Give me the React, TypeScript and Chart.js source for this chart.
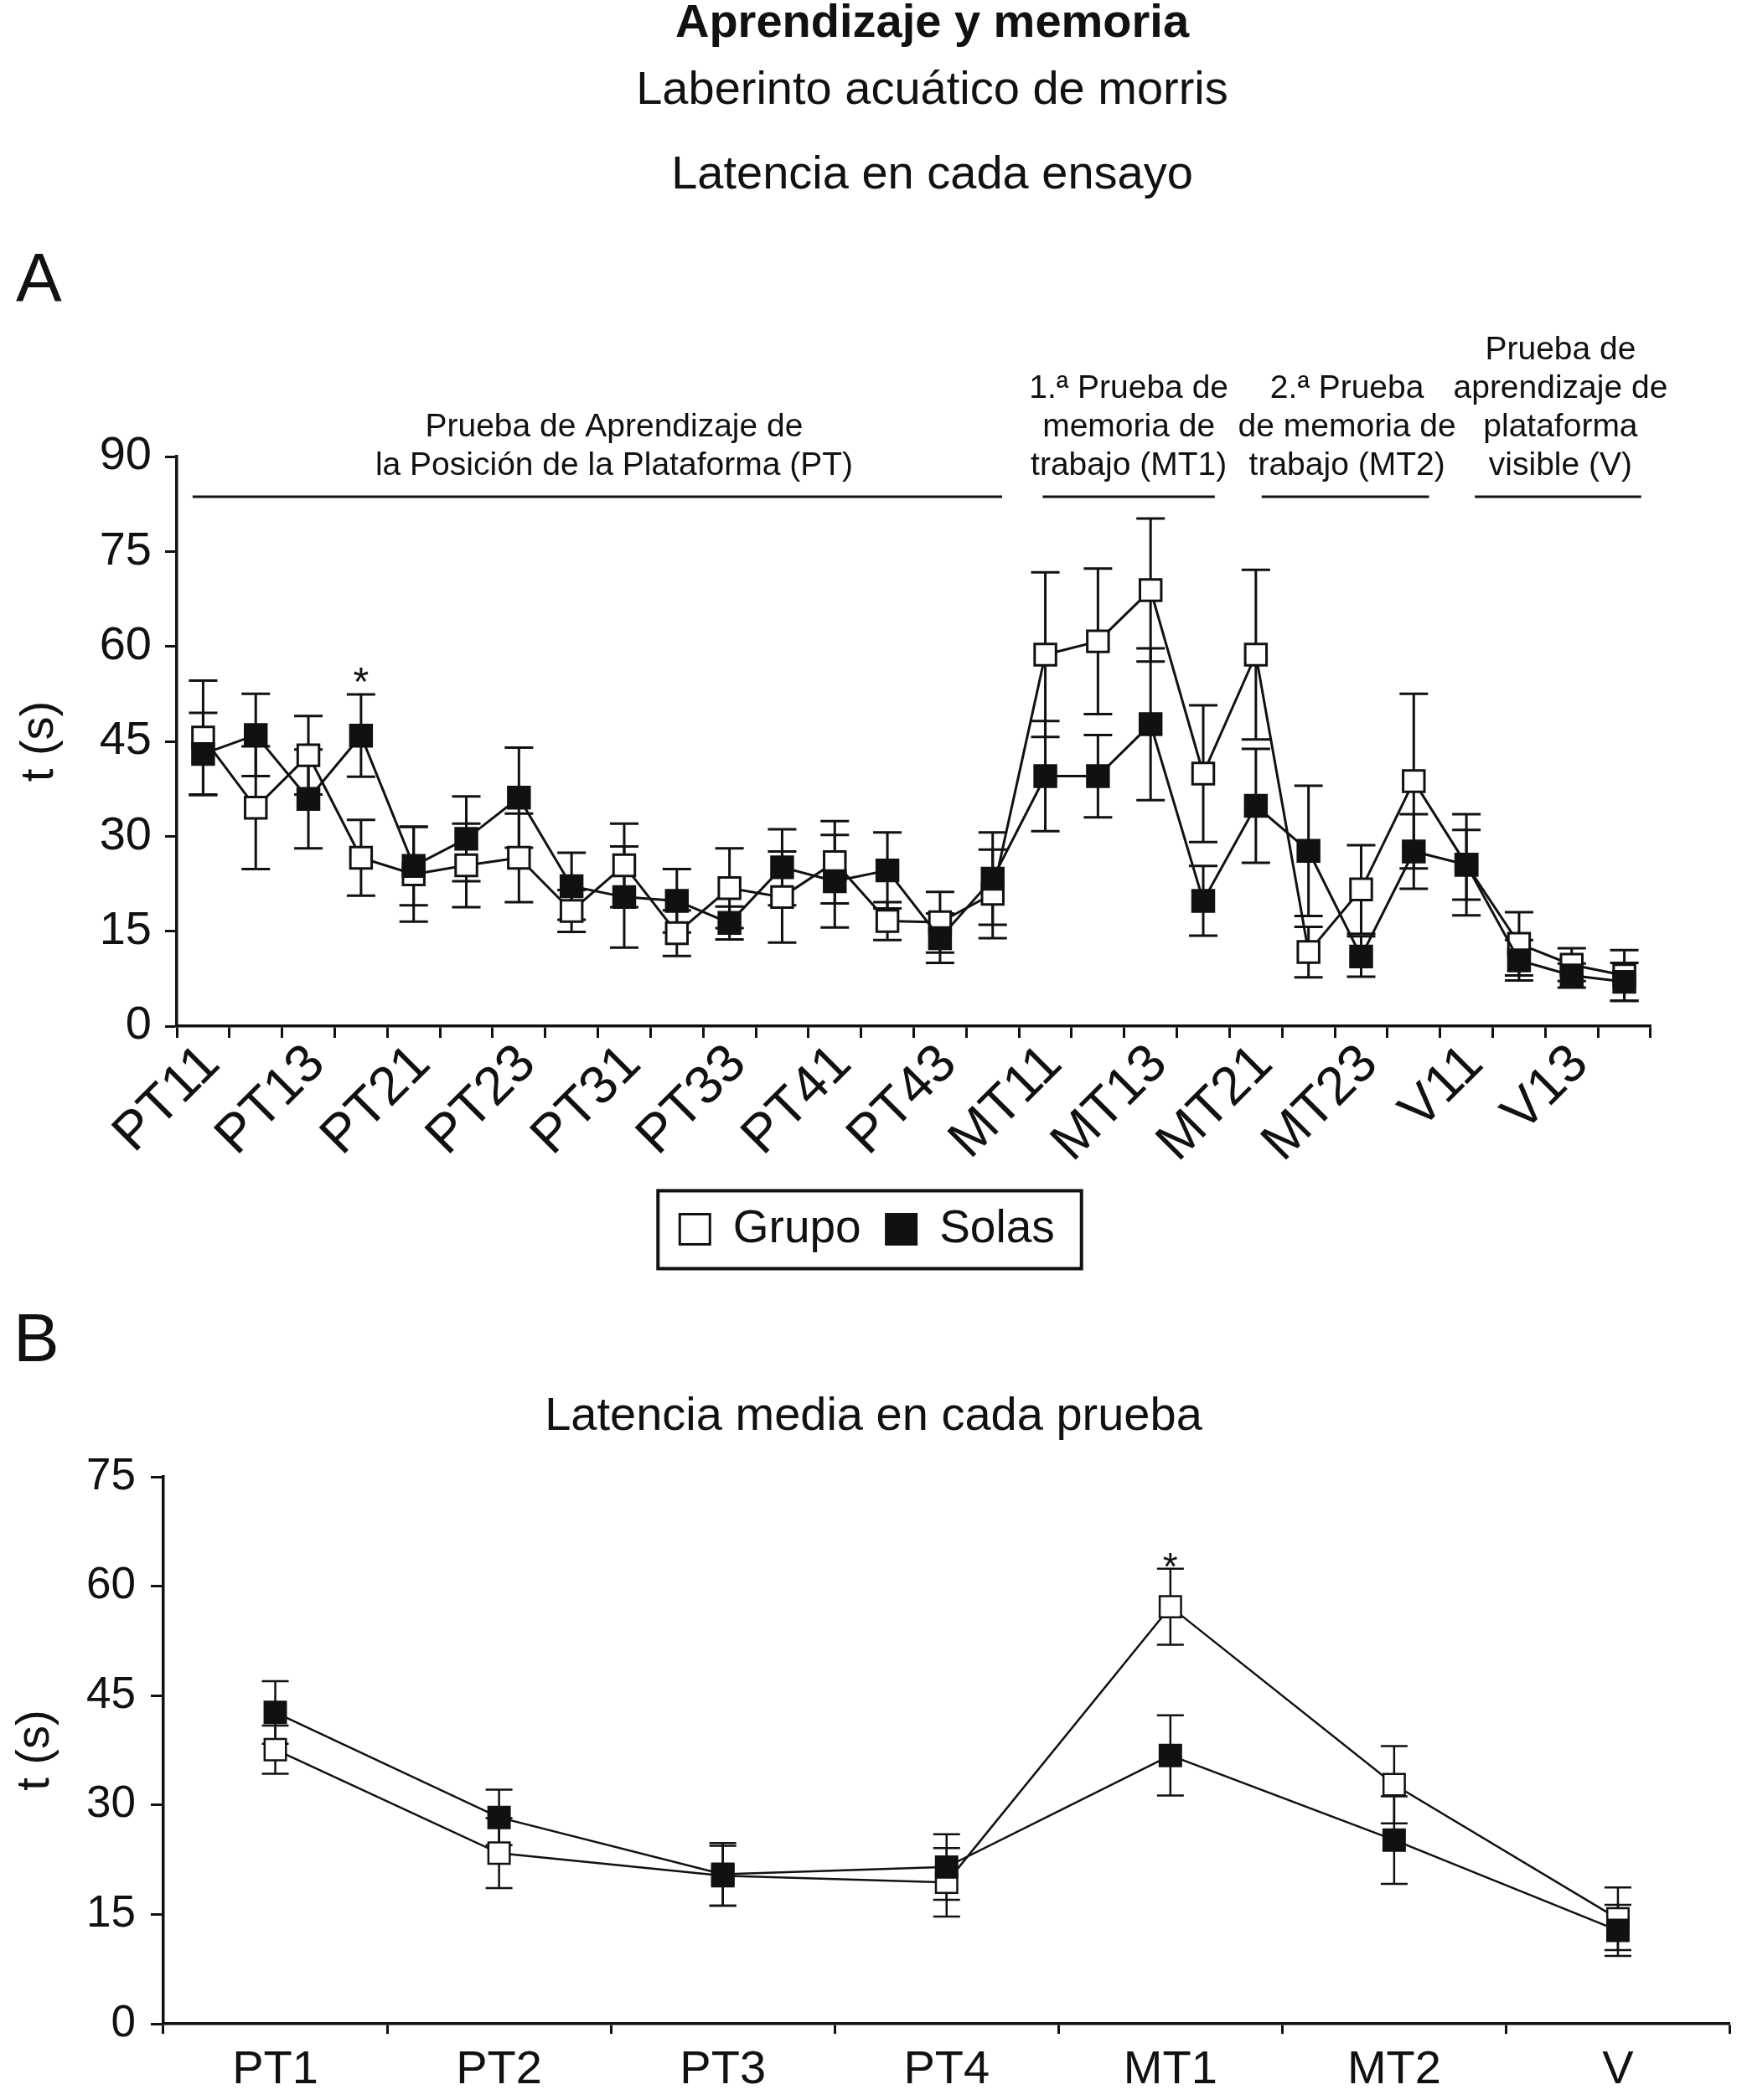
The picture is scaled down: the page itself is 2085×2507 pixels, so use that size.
import React, { useEffect, useRef } from 'react';
import { Chart, registerables } from 'chart.js';

Chart.register(...registerables);

const FONT_FAMILY = "'Liberation Sans', Arial, Helvetica, sans-serif";
const INK = '#111111';

// ---------- texts ----------
const headerTitle = 'Aprendizaje y memoria';
const headerSubtitle = ['Laberinto acuático de morris', 'Latencia en cada ensayo'];
const seriesNames = ['Grupo', 'Solas'];
const yAxisTitle = 't (s)';
const testTitle = 'Latencia media en cada prueba';

// ---------- panel A: latency per trial ----------
const trialLabels = [
  'PT11', 'PT12', 'PT13', 'PT14', 'PT21', 'PT22', 'PT23', 'PT24',
  'PT31', 'PT32', 'PT33', 'PT34', 'PT41', 'PT42', 'PT43', 'PT44',
  'MT11', 'MT12', 'MT13', 'MT14', 'MT21', 'MT22', 'MT23', 'MT24',
  'V11', 'V12', 'V13', 'V14',
];
const grupoTrial = [
  45.6, 34.5, 42.8, 26.6, 24.0, 25.4, 26.6, 18.2,
  25.4, 14.7, 21.8, 20.4, 25.9, 16.6, 16.4, 20.9,
  58.7, 60.8, 68.9, 39.9, 58.7, 11.7, 21.6, 38.7,
  25.5, 13.0, 9.7, 8.0,
];
const grupoTrialErr = [
  9.0, 9.7, 6.2, 6.0, 7.5, 6.6, 7.0, 3.3,
  6.6, 3.6, 6.3, 7.2, 6.5, 3.0, 4.8, 7.0,
  13.0, 11.5, 11.3, 10.8, 13.4, 4.0, 7.0, 13.8,
  8.0, 5.0, 2.6, 4.0,
];
const solasTrial = [
  43.0, 46.0, 35.9, 45.9, 25.3, 29.6, 36.1, 22.1,
  20.4, 19.8, 16.3, 25.1, 22.9, 24.6, 13.9, 23.3,
  39.5, 39.5, 47.7, 19.8, 34.8, 27.7, 11.0, 27.6,
  25.5, 10.4, 8.0, 7.0,
];
const solasTrialErr = [
  6.5, 6.5, 7.8, 6.5, 6.2, 6.7, 7.9, 5.3,
  8.0, 5.0, 2.6, 6.0, 7.3, 6.0, 3.9, 7.3,
  8.7, 6.5, 12.0, 5.5, 9.0, 10.3, 3.2, 5.9,
  5.5, 3.2, 1.9, 3.0,
];
const trialTicks = [0, 15, 30, 45, 60, 75, 90];
const trialSignificant = [3];

const groupTexts = [
  ['Prueba de Aprendizaje de', 'la Posición de la Plataforma (PT)'],
  ['1.ª Prueba de', 'memoria de', 'trabajo (MT1)'],
  ['2.ª Prueba', 'de memoria de', 'trabajo (MT2)'],
  ['Prueba de', 'aprendizaje de', 'plataforma', 'visible (V)'],
];
const groupFirst = [0, 16, 20, 24];
const groupLast = [15, 19, 23, 27];

// ---------- panel B: mean latency per test ----------
const testLabels = ['PT1', 'PT2', 'PT3', 'PT4', 'MT1', 'MT2', 'V'];
const grupoTest = [37.6, 23.4, 20.3, 19.4, 57.2, 32.8, 14.4];
const grupoTestErr = [3.3, 4.8, 4.1, 4.7, 5.2, 5.3, 4.3];
const solasTest = [42.7, 28.3, 20.5, 21.5, 36.8, 25.2, 12.8];
const solasTestErr = [4.3, 3.8, 4.3, 4.5, 5.5, 6.0, 3.5];
const testTicks = [0, 15, 30, 45, 60, 75];
const testSignificant = [4];

// ---------- plugins ----------
function makeErrorBars(errs: number[][], capHalf: number, lw: number) {
  return {
    id: 'errorBars',
    beforeDatasetsDraw(chart: any) {
      const ctx = chart.ctx;
      const ys = chart.scales.y;
      ctx.save();
      ctx.strokeStyle = INK;
      ctx.lineWidth = lw;
      chart.data.datasets.forEach((ds: any, i: number) => {
        const meta = chart.getDatasetMeta(i);
        meta.data.forEach((pt: any, j: number) => {
          const v = ds.data[j];
          const e = errs[i][j];
          const x = pt.x;
          const yt = ys.getPixelForValue(v + e);
          const yb = ys.getPixelForValue(Math.max(0, v - e));
          ctx.beginPath();
          ctx.moveTo(x, yt);
          ctx.lineTo(x, yb);
          ctx.moveTo(x - capHalf, yt);
          ctx.lineTo(x + capHalf, yt);
          ctx.moveTo(x - capHalf, yb);
          ctx.lineTo(x + capHalf, yb);
          ctx.stroke();
        });
      });
      ctx.restore();
    },
  };
}

function makeSignif(indices: number[], errs: number[][], gap: number, size: number) {
  return {
    id: 'signif',
    afterDatasetsDraw(chart: any) {
      const ctx = chart.ctx;
      const ys = chart.scales.y;
      const meta0 = chart.getDatasetMeta(0);
      ctx.save();
      ctx.fillStyle = INK;
      ctx.font = `${size}px ${FONT_FAMILY}`;
      ctx.textAlign = 'center';
      ctx.textBaseline = 'alphabetic';
      const m = ctx.measureText('*');
      const desc = m.actualBoundingBoxDescent || 0;
      indices.forEach((idx) => {
        let top = 0;
        chart.data.datasets.forEach((ds: any, i: number) => {
          top = Math.max(top, ds.data[idx] + errs[i][idx]);
        });
        const capY = ys.getPixelForValue(top);
        ctx.fillText('*', meta0.data[idx].x, capY - gap - desc);
      });
      ctx.restore();
    },
  };
}

// bracket lines above panel A: start/end offsets are in category steps from the first/last point
const groupsPlugin = {
  id: 'groups',
  afterDraw(chart: any) {
    const startOff = [-0.2, -0.05, 0.11, 0.16];
    const endOff = [0.18, 0.22, 0.29, 0.32];
    const textShift = [20, 0, 2, 3];
    const ctx = chart.ctx;
    const xs = chart.scales.x;
    const ca = chart.chartArea;
    const step = xs.getPixelForValue(1) - xs.getPixelForValue(0);
    const lineY = ca.top + 48;
    ctx.save();
    ctx.strokeStyle = INK;
    ctx.fillStyle = INK;
    ctx.lineWidth = 3;
    ctx.font = `39px ${FONT_FAMILY}`;
    ctx.textAlign = 'center';
    ctx.textBaseline = 'middle';
    groupTexts.forEach((lines, g) => {
      const x1 = xs.getPixelForValue(groupFirst[g]) + startOff[g] * step;
      const x2 = xs.getPixelForValue(groupLast[g]) + endOff[g] * step;
      ctx.beginPath();
      ctx.moveTo(x1, lineY);
      ctx.lineTo(x2, lineY);
      ctx.stroke();
      const cx = (x1 + x2) / 2 + textShift[g];
      lines.forEach((t, k) => {
        ctx.fillText(t, cx, lineY - 37 - (lines.length - 1 - k) * 46);
      });
    });
    ctx.restore();
  },
};

// shift the title blocks and legend horizontally to where they sit in the figure
function makeShift(titleOffsetFromPlot: number, legendCenter: number | null) {
  return {
    id: 'shiftBlocks',
    afterLayout(chart: any) {
      const ca = chart.chartArea;
      const cx = (ca.left + ca.right) / 2 + titleOffsetFromPlot;
      const cls = chart.titleBlock && chart.titleBlock.constructor;
      if (cls) {
        chart.boxes.forEach((b: any) => {
          if (b instanceof cls) {
            const d = cx - (b.left + b.right) / 2;
            b.left += d;
            b.right += d;
          }
        });
      }
      const lg = chart.legend;
      if (lg && legendCenter !== null) {
        const d = legendCenter - (lg.left + lg.right) / 2;
        lg.left += d;
        lg.right += d;
      }
    },
  };
}

const legendBoxPlugin = {
  id: 'legendBox',
  afterDraw(chart: any) {
    const lg = chart.legend;
    if (!lg || !lg.lineWidths) return;
    const pad = lg.options.labels.padding;
    const rowW = lg.lineWidths[0];
    const startX = (lg.left + pad + lg.right - rowW) / 2;
    const endX = startX + rowW - pad;
    const itemH = 55;
    const cy = lg.top + pad + itemH / 2;
    const ctx = chart.ctx;
    ctx.save();
    ctx.strokeStyle = INK;
    ctx.lineWidth = 4;
    ctx.strokeRect(startX - 26, cy - 46, endX - startX + 26 + 32, 93);
    ctx.restore();
  },
};

function axisCommon(tickLength: number) {
  return {
    grid: {
      drawOnChartArea: false,
      drawTicks: true,
      tickLength,
      tickWidth: 3,
      tickColor: INK,
    },
    border: { display: true, color: INK, width: 3.5 },
  };
}

function seriesStyle(filled: boolean, lw: number, radius: number) {
  return {
    borderColor: INK,
    backgroundColor: filled ? INK : '#ffffff',
    borderWidth: lw,
    pointStyle: 'rect',
    pointRadius: radius,
    pointHoverRadius: radius,
    pointBorderWidth: lw,
    pointBorderColor: INK,
    pointBackgroundColor: filled ? INK : '#ffffff',
    tension: 0,
    fill: false,
  };
}

export default function App() {
  const refA = useRef<HTMLCanvasElement | null>(null);
  const refB = useRef<HTMLCanvasElement | null>(null);

  useEffect(() => {
    if (!refA.current || !refB.current) return;

    const chartA = new Chart(refA.current, {
      type: 'line',
      data: {
        labels: trialLabels,
        datasets: [
          { label: seriesNames[0], data: grupoTrial, order: 2, ...seriesStyle(false, 3, 18) } as any,
          { label: seriesNames[1], data: solasTrial, order: 1, ...seriesStyle(true, 3, 18) } as any,
        ],
      },
      options: {
        animation: false,
        responsive: true,
        maintainAspectRatio: false,
        layout: { padding: { top: 0, right: 115, left: 0, bottom: 30 } },
        plugins: {
          title: {
            display: true,
            text: headerTitle,
            color: INK,
            font: { family: FONT_FAMILY, size: 56, weight: 'bold', lineHeight: '58px' },
            padding: { top: 0, bottom: 0 },
          },
          subtitle: {
            display: true,
            text: headerSubtitle,
            color: INK,
            font: { family: FONT_FAMILY, size: 56, lineHeight: '101px' },
            padding: { top: 0, bottom: 285 },
          },
          legend: {
            position: 'bottom',
            labels: {
              color: INK,
              font: { family: FONT_FAMILY, size: 55 },
              boxWidth: 36,
              boxHeight: 36,
              padding: 30,
              sort: (a: any, b: any) => a.datasetIndex - b.datasetIndex,
            },
          },
          tooltip: { enabled: false },
        },
        scales: {
          x: {
            type: 'category',
            offset: true,
            ...axisCommon(14),
            grid: { ...axisCommon(14).grid, offset: true },
            ticks: {
              autoSkip: false,
              maxRotation: 45,
              minRotation: 45,
              color: INK,
              font: { family: FONT_FAMILY, size: 64 },
              padding: -6,
              labelOffset: 10,
              callback: (_v: any, i: number) => (i % 2 === 0 ? trialLabels[i] : ''),
            },
            afterFit: (s: any) => { s.height = 185; },
          },
          y: {
            min: trialTicks[0],
            max: trialTicks[trialTicks.length - 1],
            ...axisCommon(14),
            afterBuildTicks: (s: any) => { s.ticks = trialTicks.map((v) => ({ value: v })); },
            ticks: {
              color: INK,
              font: { family: FONT_FAMILY, size: 56 },
              padding: 16,
            },
            title: {
              display: true,
              text: yAxisTitle,
              color: INK,
              font: { family: FONT_FAMILY, size: 56 },
              padding: { top: 14, bottom: 0 },
            },
            afterFit: (s: any) => { s.width = 211; },
          },
        },
      } as any,
      plugins: [
        makeErrorBars([grupoTrialErr, solasTrialErr], 17, 3),
        makeSignif(trialSignificant, [grupoTrialErr, solasTrialErr], 15, 48),
        groupsPlugin,
        makeShift(22, 1035),
        legendBoxPlugin,
      ] as any,
    });

    const chartB = new Chart(refB.current, {
      type: 'line',
      data: {
        labels: testLabels,
        datasets: [
          { label: seriesNames[0], data: grupoTest, order: 2, ...seriesStyle(false, 2.5, 18) } as any,
          { label: seriesNames[1], data: solasTest, order: 1, ...seriesStyle(true, 2.5, 18) } as any,
        ],
      },
      options: {
        animation: false,
        responsive: true,
        maintainAspectRatio: false,
        layout: { padding: { top: 0, right: 0, left: 0, bottom: 0 } },
        plugins: {
          title: {
            display: true,
            text: testTitle,
            color: INK,
            font: { family: FONT_FAMILY, size: 56, weight: 'normal' },
            padding: { top: 78, bottom: 38 },
          },
          legend: { display: false },
          tooltip: { enabled: false },
        },
        scales: {
          x: {
            type: 'category',
            offset: true,
            ...axisCommon(12),
            grid: { ...axisCommon(12).grid, offset: true },
            ticks: {
              autoSkip: false,
              maxRotation: 0,
              minRotation: 0,
              color: INK,
              font: { family: FONT_FAMILY, size: 56 },
              padding: 10,
            },
            afterFit: (s: any) => { s.height = 104; },
          },
          y: {
            min: testTicks[0],
            max: testTicks[testTicks.length - 1],
            ...axisCommon(15),
            afterBuildTicks: (s: any) => { s.ticks = testTicks.map((v) => ({ value: v })); },
            ticks: {
              color: INK,
              font: { family: FONT_FAMILY, size: 53 },
              padding: 18,
            },
            title: {
              display: true,
              text: yAxisTitle,
              color: INK,
              font: { family: FONT_FAMILY, size: 56 },
              padding: { top: 9, bottom: 0 },
            },
            afterFit: (s: any) => { s.width = 195; },
          },
        },
      } as any,
      plugins: [
        makeErrorBars([grupoTestErr, solasTestErr], 16, 2.5),
        makeSignif(testSignificant, [grupoTestErr, solasTestErr], 2, 46),
      ] as any,
    });

    return () => {
      chartA.destroy();
      chartB.destroy();
    };
  }, []);

  const letterStyle: React.CSSProperties = {
    position: 'absolute',
    fontFamily: FONT_FAMILY,
    fontSize: 82,
    lineHeight: 1,
    color: INK,
  };

  return (
    <div
      style={{
        position: 'fixed',
        left: 0,
        top: 0,
        width: 2085,
        height: 2507,
        overflow: 'hidden',
        background: '#ffffff',
      }}
    >
      <div style={{ position: 'absolute', left: 0, top: 0, width: 2085, height: 1535 }}>
        <canvas ref={refA} />
      </div>
      <div style={{ position: 'absolute', left: 0, top: 1580, width: 2085, height: 940 }}>
        <canvas ref={refB} />
      </div>
      <div style={{ ...letterStyle, left: 19, top: 290 }}>A</div>
      <div style={{ ...letterStyle, left: 16, top: 1556 }}>B</div>
    </div>
  );
}
